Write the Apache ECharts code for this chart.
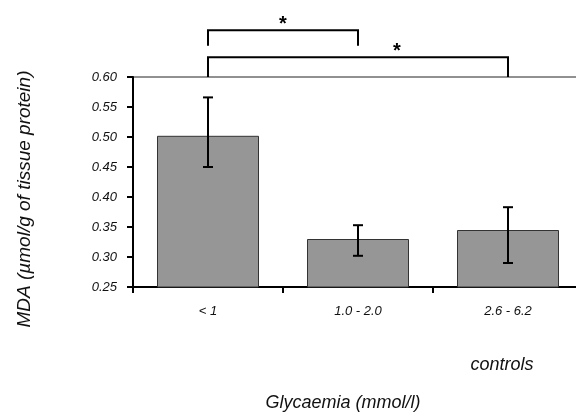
<!DOCTYPE html>
<html>
<head>
<meta charset="utf-8">
<script src="https://cdn.jsdelivr.net/npm/echarts@6/dist/echarts.min.js"></script>
<style>
  html, body { margin: 0; padding: 0; background: #fff; }
  #chart { width: 576px; height: 412px; }
</style>
</head>
<body>
<div id="chart"></div>
<script>
// data
let groups = ['< 1', '1.0 - 2.0', '2.6 - 6.2'];
let mdaMean = [0.502, 0.330, 0.345];
let errLow = [0.450, 0.302, 0.290];
let errHigh = [0.566, 0.353, 0.383];
// significance brackets: [from group, to group, top value, leg bottom value, star position along bracket]
let brackets = [
  [0, 1, 0.678, 0.652, 0.5],
  [0, 2, 0.633, 0.600, 0.63]
];

let chart = echarts.init(document.getElementById('chart'));
let font = 'Liberation Sans, Arial, sans-serif';

let option = {
  animation: false,
  grid: {
    left: 133,
    top: 77,
    bottom: 125,
    width: 450,
    outerBoundsMode: 'none',
    show: true,
    borderColor: '#222',
    borderWidth: 1
  },
  xAxis: {
    type: 'category',
    data: groups,
    axisLine: { lineStyle: { color: '#000', width: 2 } },
    axisTick: { show: true, length: 6, lineStyle: { color: '#000', width: 2 } },
    axisLabel: {
      margin: 18,
      fontSize: 13,
      fontStyle: 'italic',
      fontFamily: font,
      color: '#111'
    }
  },
  yAxis: {
    type: 'value',
    min: 0.25,
    max: 0.60,
    interval: 0.05,
    splitLine: { show: false },
    axisLine: { show: true, lineStyle: { color: '#000', width: 2 } },
    axisTick: { show: true, length: 6, lineStyle: { color: '#000', width: 2 } },
    axisLabel: {
      margin: 16,
      fontSize: 13,
      fontStyle: 'italic',
      fontFamily: font,
      color: '#111',
      formatter: function (v) { return v.toFixed(2); }
    }
  },
  graphic: [
    {
      type: 'text', x: 25, y: 199, rotation: Math.PI / 2,
      style: {
        text: 'MDA (µmol/g of tissue protein)',
        font: 'italic 19px ' + font, fill: '#111', align: 'center', verticalAlign: 'middle'
      }
    },
    {
      type: 'text', x: 502, y: 365,
      style: { text: 'controls', font: 'italic 18px ' + font, fill: '#111', align: 'center', verticalAlign: 'middle' }
    },
    {
      type: 'text', x: 343, y: 403,
      style: { text: 'Glycaemia (mmol/l)', font: 'italic 18px ' + font, fill: '#111', align: 'center', verticalAlign: 'middle' }
    }
  ],
  series: [
    {
      type: 'bar',
      data: mdaMean,
      barWidth: 102,
      itemStyle: { color: '#969696', borderColor: '#333', borderWidth: 1 }
    },
    {
      type: 'custom',
      data: groups.map(function (g, i) { return [i, errLow[i], errHigh[i]]; }),
      renderItem: function (params, api) {
        let x = api.coord([api.value(0), api.value(1)])[0];
        let lo = api.coord([api.value(0), api.value(1)])[1];
        let hi = api.coord([api.value(0), api.value(2)])[1];
        let s = { stroke: '#000', lineWidth: 2 };
        return {
          type: 'group',
          children: [
            { type: 'line', shape: { x1: x, y1: lo, x2: x, y2: hi }, style: s },
            { type: 'line', shape: { x1: x - 5, y1: lo, x2: x + 5, y2: lo }, style: s },
            { type: 'line', shape: { x1: x - 5, y1: hi, x2: x + 5, y2: hi }, style: s }
          ]
        };
      },
      z: 5
    },
    {
      type: 'custom',
      clip: false,
      data: brackets,
      renderItem: function (params, api) {
        let a = api.coord([api.value(0), api.value(2)]);
        let b = api.coord([api.value(1), api.value(2)]);
        let bot = api.coord([api.value(0), api.value(3)])[1];
        let t = api.value(4);
        let s = { stroke: '#000', lineWidth: 2, fill: null };
        return {
          type: 'group',
          children: [
            { type: 'polyline', shape: { points: [[a[0], bot], [a[0], a[1]], [b[0], b[1]], [b[0], bot]] }, style: s },
            {
              type: 'text', x: a[0] + (b[0] - a[0]) * t, y: a[1] + 4,
              style: { text: '*', font: 'bold 20px ' + font, fill: '#000', align: 'center', verticalAlign: 'bottom' }
            }
          ]
        };
      },
      z: 5
    }
  ]
};

chart.setOption(option);
</script>
</body>
</html>
